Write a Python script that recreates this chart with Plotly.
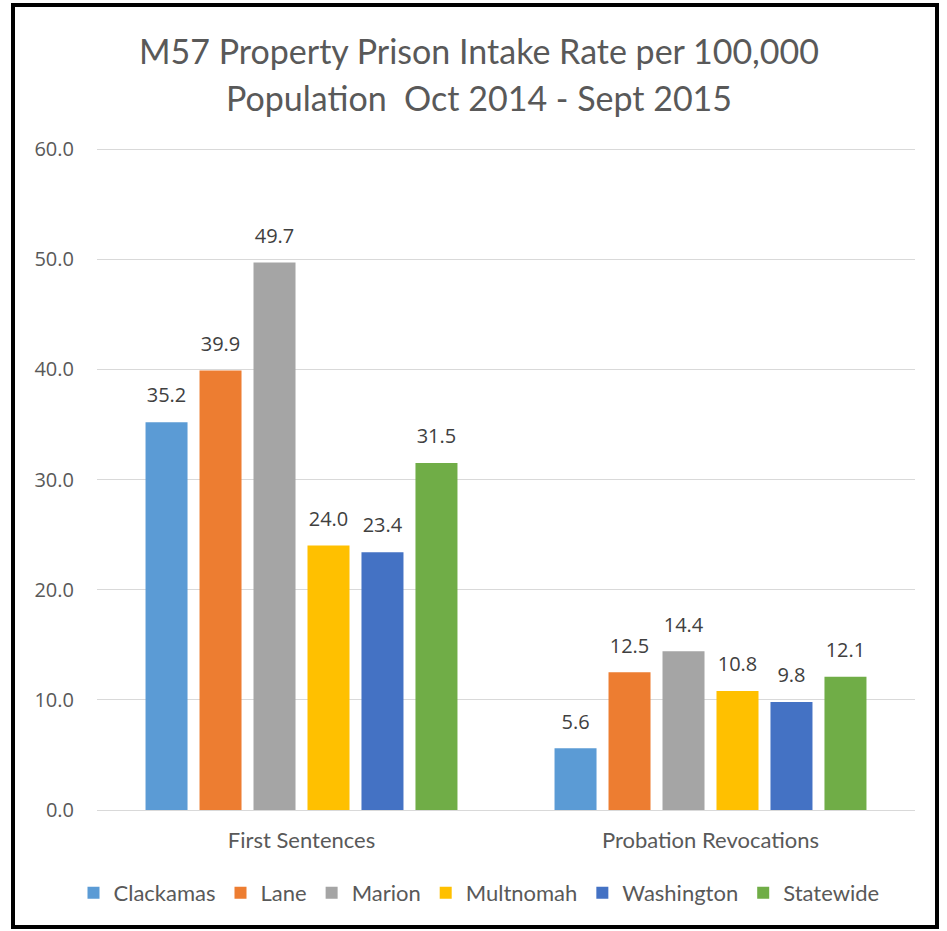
import plotly.graph_objects as go

categories = ["First Sentences", "Probation Revocations"]
series_names = ["Clackamas", "Lane", "Marion", "Multnomah", "Washington", "Statewide"]
values = {
    "Clackamas": [35.2, 5.6],
    "Lane": [39.9, 12.5],
    "Marion": [49.7, 14.4],
    "Multnomah": [24.0, 10.8],
    "Washington": [23.4, 9.8],
    "Statewide": [31.5, 12.1],
}
colors = {
    "Clackamas": "#5B9BD5",
    "Lane": "#ED7D31",
    "Marion": "#A5A5A5",
    "Multnomah": "#FFC000",
    "Washington": "#4472C4",
    "Statewide": "#70AD47",
}
y_ticks = [0, 10, 20, 30, 40, 50, 60]
title_lines = ["M57 Property Prison Intake Rate per 100,000", "Population  Oct 2014 - Sept 2015"]

TEXT_FONT = "Lato, 'Liberation Sans Narrow', Carlito, sans-serif"
NUM_FONT = "'Open Sans', 'DejaVu Sans', sans-serif"
GREY = "#595959"

fig = go.Figure()
for name in series_names:
    fig.add_trace(go.Bar(
        x=categories, y=values[name], name=name,
        marker=dict(color=colors[name], line=dict(width=0)),
        offsetgroup=name,
    ))
for name in series_names:
    fig.add_trace(go.Scatter(
        x=categories, y=values[name], mode="markers+text",
        text=[f"{v:.1f}" for v in values[name]],
        textposition="top center",
        textfont=dict(family=NUM_FONT, size=20, color="#404040"),
        marker=dict(size=22, color="rgba(0,0,0,0)"),
        offsetgroup=name, showlegend=False, hoverinfo="skip", cliponaxis=False,
    ))

W, H = 947, 931
L, R, T, B = 97, 32, 147, 121
pw, ph = W - L - R, H - T - B
y_top = 60 * ph / 661  # leaves the 60 gridline ~2px inside the plot area so it is drawn

annotations = []
for line, ypix in zip(title_lines, [50, 97]):
    annotations.append(dict(
        text=line, xref="paper", yref="paper",
        x=(479 - L) / pw, y=((H - B) - ypix) / ph,
        xanchor="center", yanchor="middle", showarrow=False,
        font=dict(family=TEXT_FONT, size=34, color=GREY),
    ))

fig.update_layout(
    width=W, height=H,
    margin=dict(l=L, r=R, t=T, b=B),
    paper_bgcolor="white", plot_bgcolor="white",
    barmode="group", bargap=0.208, bargroupgap=0.222,
    scattermode="group", scattergap=0.208,
    annotations=annotations,
    xaxis=dict(
        showgrid=False, showline=False, zeroline=False,
        tickfont=dict(family=TEXT_FONT, size=22, color=GREY),
        ticks="", ticklabelstandoff=15,
    ),
    yaxis=dict(
        range=[0, y_top], tickvals=y_ticks, tickformat=".1f",
        showgrid=True, gridcolor="#D9D9D9", gridwidth=1,
        zeroline=True, zerolinecolor="#D9D9D9", zerolinewidth=1,
        showline=False, ticks="", ticklabelstandoff=22,
        tickfont=dict(family=NUM_FONT, size=20, color=GREY),
    ),
    legend=dict(
        orientation="h", x=0.5 - 27 / pw, xanchor="center", y=(-(893 - (H - B)) / ph), yanchor="middle",
        font=dict(family=TEXT_FONT, size=22, color=GREY),
        itemwidth=30, traceorder="normal",
    ),
    shapes=[dict(
        type="rect", xref="paper", yref="paper",
        x0=(13 - L) / pw, x1=(937 - L) / pw,
        y0=((H - B) - 927) / ph, y1=((H - B) - 5) / ph,
        line=dict(color="black", width=4), fillcolor="rgba(0,0,0,0)", layer="above",
    )],
)

fig.write_html(
    "out.html",
    config={"displayModeBar": False},
    post_script="document.body.style.margin='0';document.body.style.overflow='hidden';",
)
